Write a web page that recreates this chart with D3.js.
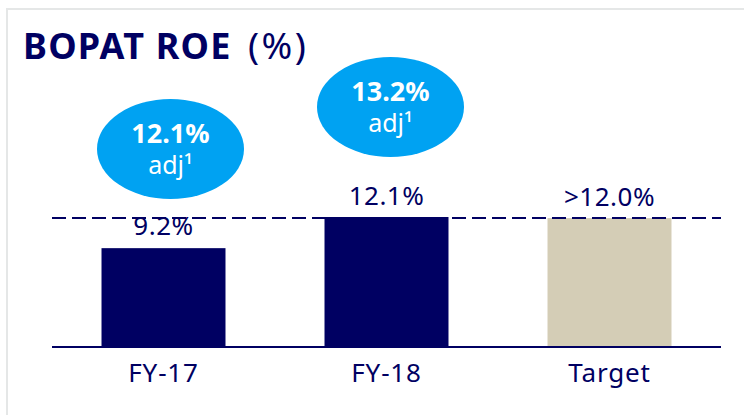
<!DOCTYPE html>
<html>
<head>
<meta charset="utf-8">
<script src="https://cdn.jsdelivr.net/npm/d3@7"></script>
<style>
	html, body { margin: 0; padding: 0; background: #fff; }
	svg { display: block; font-family: "Noto Sans", "Open Sans", sans-serif; }
</style>
</head>
<body>
<svg id="chart" width="744" height="415"></svg>
<script>
'use strict';

// data
var categories = ["FY-17", "FY-18", "Target"];
var values = [9.2, 12.1, 12.0];
var valueLabels = ["9.2%", "12.1%", ">12.0%"];
var targetLine = 12.0;
var adjCategories = ["FY-17", "FY-18"];
var adjLabels = ["12.1%", "13.2%"];

var NAVY = "#000062";
var SKY = "#00a2f2";
var SAND = "#d4cdb6";

var svg = d3.select("#chart");

// light frame
svg.append("path")
	.attr("d", "M7,420 L7,9 L750,9")
	.attr("fill", "none")
	.attr("stroke", "#e5e7e7")
	.attr("stroke-width", 2);

// title
svg.append("text")
	.attr("x", 23)
	.attr("y", 59)
	.attr("fill", NAVY)
	.style("font-size", "36px")
	.style("font-weight", "bold")
	.style("letter-spacing", "1.2px")
	.text("BOPAT ROE");

svg.append("text")
	.attr("x", 248)
	.attr("y", 59)
	.attr("fill", NAVY)
	.style("font-size", "37px")
	.style("letter-spacing", "2.5px")
	.text("(%)");

var x = d3.scaleBand()
	.domain(categories)
	.range([52, 721])
	.paddingInner(0.444)
	.paddingOuter(0.222);

var y = d3.scaleLinear()
	.domain([0, 12.1])
	.range([347, 217]);

// bars
svg.selectAll(".bar")
	.data(categories)
	.enter()
	.append("rect")
	.classed("bar", 1)
	.attr("x", function (d) { return x(d); })
	.attr("width", x.bandwidth())
	.attr("y", function (d, i) { return y(values[i]); })
	.attr("height", function (d, i) { return y(0) - y(values[i]); })
	.attr("fill", function (d) { return d === "Target" ? SAND : NAVY; });

// dashed target line
svg.append("line")
	.attr("x1", 52)
	.attr("x2", 721)
	.attr("y1", y(targetLine))
	.attr("y2", y(targetLine))
	.attr("stroke", NAVY)
	.attr("stroke-width", 2)
	.attr("stroke-dasharray", "14,6");

// baseline
svg.append("line")
	.attr("x1", 52)
	.attr("x2", 721)
	.attr("y1", y(0))
	.attr("y2", y(0))
	.attr("stroke", NAVY)
	.attr("stroke-width", 2);

// value labels
svg.selectAll(".val")
	.data(categories)
	.enter()
	.append("text")
	.classed("val", 1)
	.attr("x", function (d) { return x(d) + x.bandwidth() / 2; })
	.attr("y", function (d, i) {
		return values[i] < targetLine ? y(values[i]) - 13 : y(values[i]) - 12;
	})
	.attr("text-anchor", "middle")
	.attr("fill", NAVY)
	.style("font-size", "26px")
	.style("letter-spacing", "0.5px")
	.text(function (d, i) { return valueLabels[i]; });

// category labels
svg.selectAll(".cat")
	.data(categories)
	.enter()
	.append("text")
	.classed("cat", 1)
	.attr("x", function (d) { return x(d) + x.bandwidth() / 2; })
	.attr("y", 382)
	.attr("text-anchor", "middle")
	.attr("fill", NAVY)
	.style("font-size", "26px")
	.style("letter-spacing", "0.8px")
	.text(function (d) { return d; });

// adjusted bubbles
var bubbleY = { "FY-17": 149, "FY-18": 107 };
var bubbleDx = { "FY-17": 7, "FY-18": 4 };

var bubble = svg.selectAll(".bubble")
	.data(adjCategories)
	.enter()
	.append("g")
	.classed("bubble", 1)
	.attr("transform", function (d) {
		return "translate(" + (x(d) + x.bandwidth() / 2 + bubbleDx[d]) + "," + bubbleY[d] + ")";
	});

bubble.append("ellipse")
	.attr("rx", 73.5)
	.attr("ry", 50)
	.attr("fill", SKY);

bubble.append("text")
	.attr("y", -6)
	.attr("text-anchor", "middle")
	.attr("fill", "#fff")
	.style("font-size", "27px")
	.style("font-weight", "bold")
	.text(function (d, i) { return adjLabels[i]; });

bubble.append("text")
	.attr("y", 25)
	.attr("text-anchor", "middle")
	.attr("fill", "#fff")
	.style("font-size", "25px")
	.text("adj¹");
</script>
</body>
</html>
